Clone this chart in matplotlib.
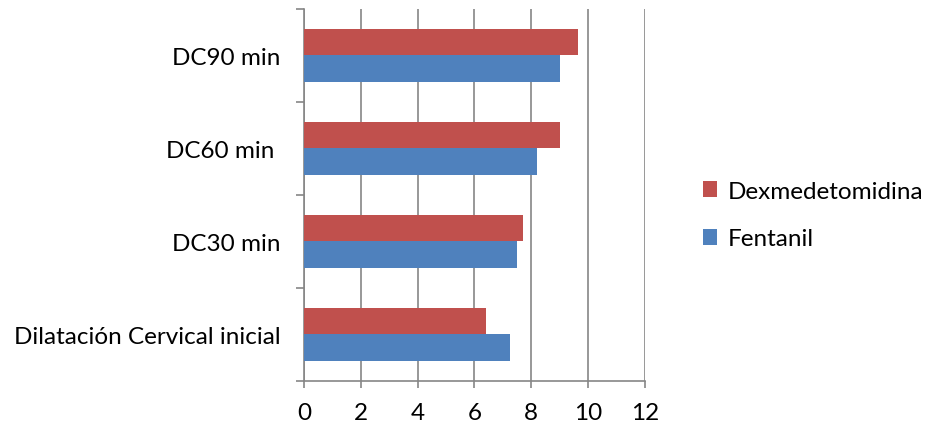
import matplotlib.pyplot as plt
import numpy as np
from matplotlib.ticker import FixedLocator

# Cervical dilation (cm) by time point and drug
categories = ["Dilatación Cervical inicial", "DC30 min", "DC60 min ", "DC90 min"]
fentanil = [7.25, 7.5, 8.2, 9.0]
dexmedetomidina = [6.4, 7.7, 9.0, 9.65]
x_ticks = [0, 2, 4, 6, 8, 10, 12]

red = "#C0504D"
blue = "#4F81BD"
grid_color = "#868686"

plt.rcParams["font.family"] = ["Lato", "DejaVu Sans"]

fig = plt.figure(figsize=(9.25, 4.27), dpi=100)
ax = fig.add_axes([0.3286, 0.1061, 0.3687, 0.8705])

y = np.arange(len(categories))
h = 0.283
ax.barh(y - h / 2, fentanil, height=h, color=blue, label="Fentanil", zorder=3)
ax.barh(y + h / 2, dexmedetomidina, height=h, color=red, label="Dexmedetomidina", zorder=3)

ax.set_xlim(0, 12)
ax.set_ylim(-0.5, len(categories) - 0.5)
ax.set_xticks(x_ticks)
ax.set_yticks(y)
ax.set_yticklabels(categories)
ax.yaxis.set_minor_locator(FixedLocator(np.arange(-0.5, len(categories), 1.0)))

ax.tick_params(axis="y", which="major", length=0, pad=17, labelsize=17.5)
ax.tick_params(axis="y", which="minor", length=6, width=1.2, color=grid_color)
ax.tick_params(axis="x", which="major", length=5, width=1.2, color=grid_color,
               pad=10, labelsize=17.5)

ax.grid(axis="x", color=grid_color, linewidth=1.2, zorder=0)
for side in ("top", "right"):
    ax.spines[side].set_visible(False)
for side in ("left", "bottom"):
    ax.spines[side].set_color(grid_color)
    ax.spines[side].set_linewidth(1.2)

handles, labels = ax.get_legend_handles_labels()
fig.legend(handles[::-1], labels[::-1], loc="center left",
           bbox_to_anchor=(0.736, 0.494), frameon=False, fontsize=17.5,
           handlelength=0.6, handleheight=0.6, handletextpad=0.45,
           labelspacing=1.1)

fig.savefig("out.png", dpi=100)
